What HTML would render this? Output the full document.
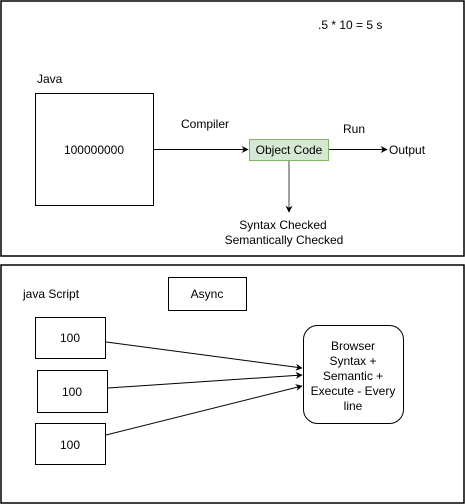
<!DOCTYPE html>
<html><head><meta charset="utf-8"><style>
html,body{margin:0;padding:0;background:#fff;}
svg{display:block;}
text{font-family:"Liberation Sans",Arial,sans-serif;font-size:12px;fill:#000;}
</style></head><body>
<svg width="465" height="504" viewBox="0 0 465 504" xmlns="http://www.w3.org/2000/svg">
<defs>
<marker id="a" viewBox="0 0 10 10" refX="9" refY="5" markerWidth="7" markerHeight="7" orient="auto" markerUnits="userSpaceOnUse"><path d="M0,0 L10,5 L0,10 L3,5 Z" fill="#000"/></marker>
</defs>
<rect x="1" y="1" width="463" height="255" fill="none" stroke="#000" stroke-width="1.5"/>
<rect x="1" y="265" width="463" height="238" fill="none" stroke="#000" stroke-width="1.5"/>

<text x="318" y="29">.5 * 10 = 5 s</text>
<text x="37" y="83">Java</text>
<rect x="35.5" y="93.5" width="118" height="112" fill="#fff" stroke="#000"/>
<text x="94" y="154" text-anchor="middle">100000000</text>
<line x1="154" y1="149.5" x2="248" y2="149.5" stroke="#000" marker-end="url(#a)"/>
<text x="181" y="128">Compiler</text>
<rect x="249.5" y="139.5" width="79" height="21" fill="#d5e8d4" stroke="#82b366"/>
<text x="289" y="154" text-anchor="middle">Object Code</text>
<line x1="329" y1="149.5" x2="387" y2="149.5" stroke="#000" marker-end="url(#a)"/>
<text x="343" y="133">Run</text>
<text x="389" y="154">Output</text>
<line x1="289" y1="161" x2="289" y2="212" stroke="#808080" stroke-width="1.5" marker-end="url(#a)"/>
<text x="283" y="229" text-anchor="middle">Syntax Checked</text>
<text x="284" y="244" text-anchor="middle">Semantically Checked</text>

<text x="23" y="298">java Script</text>
<rect x="168.5" y="277.5" width="78" height="33" fill="#fff" stroke="#000"/>
<text x="207" y="298" text-anchor="middle">Async</text>
<rect x="35.5" y="317.5" width="70" height="41" fill="#fff" stroke="#000"/>
<text x="70" y="342" text-anchor="middle">100</text>
<rect x="37.5" y="370.5" width="70" height="42" fill="#fff" stroke="#000"/>
<text x="72" y="396" text-anchor="middle">100</text>
<rect x="35.5" y="423.5" width="70" height="41" fill="#fff" stroke="#000"/>
<text x="70" y="449" text-anchor="middle">100</text>
<rect x="303.5" y="325.5" width="100" height="98" rx="14" fill="#fff" stroke="#000"/>
<text x="353" y="350" text-anchor="middle">Browser</text>
<text x="353" y="365" text-anchor="middle">Syntax +</text>
<text x="353" y="380" text-anchor="middle">Semantic +</text>
<text x="353" y="395" text-anchor="middle">Execute - Every</text>
<text x="353" y="410" text-anchor="middle">line</text>
<line x1="106" y1="342" x2="302" y2="368" stroke="#000" marker-end="url(#a)"/>
<line x1="108" y1="388" x2="302" y2="375" stroke="#000" marker-end="url(#a)"/>
<line x1="106" y1="435" x2="302" y2="386" stroke="#000" marker-end="url(#a)"/>
</svg>
</body></html>
